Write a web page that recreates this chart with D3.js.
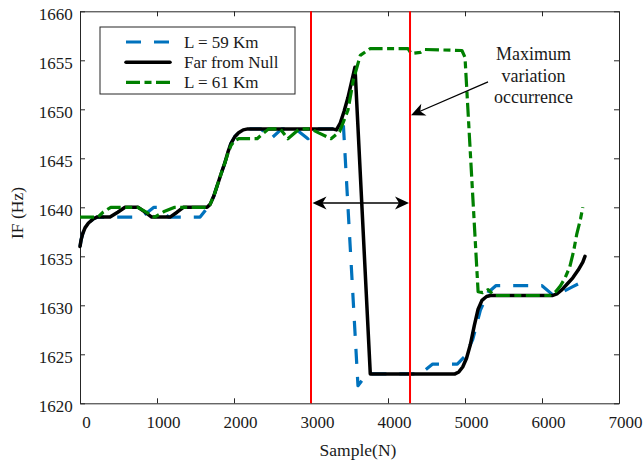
<!DOCTYPE html>
<html><head><meta charset="utf-8">
<script src="https://cdn.jsdelivr.net/npm/d3@7"></script>
<style>
body{margin:0;background:#fff}
svg text{font-family:'Liberation Serif','Times New Roman',Times,serif !important}
</style>
</head><body><svg id="c" width="644" height="464"></svg>
<script>
const xTicks = [0,1000,2000,3000,4000,5000,6000,7000];
const yTicks = [1620,1625,1630,1635,1640,1645,1650,1655,1660];

const blackX = [0,15,35,65,110,170,220,390,490,585,757,845,931,1169,1260,1342,1650,1690,1740,1790,1840,1880,1920,1960,2010,2060,2120,2180,3280,3330,3380,3430,3480,3530,3571,3770,4870,4920,4970,5020,5070,5120,5170,5220,5280,5330,6140,6200,6260,6330,6400,6470,6530,6558];
const blackY = [1636,1636.7,1637.3,1637.9,1638.4,1638.8,1639,1639,1639.5,1640,1640,1639.5,1639,1639,1639.5,1640,1640,1640.3,1641.2,1642.4,1643.6,1644.5,1645.6,1646.5,1647.2,1647.6,1647.9,1648,1648,1647.9,1648.6,1649.8,1651.2,1652.9,1654.3,1623,1623,1623.2,1623.7,1624.6,1626,1627.9,1629.6,1630.5,1630.9,1631,1631,1631.2,1631.6,1632.2,1632.8,1633.6,1634.4,1635];

const blueX = [0,15,35,65,110,170,220,800,960,1020,1150,1560,1660,1700,1740,1790,1840,1880,1920,1960,2010,2060,2120,2180,2350,2480,2620,2800,2960,3100,3350,3420,3610,3730,4420,4580,4900,5000,5100,5200,5300,5400,6000,6150,6250,6400,6500];
const blueY = [1636,1636.7,1637.3,1637.9,1638.4,1638.8,1639,1639,1640,1640,1639,1639,1640,1640.4,1641.2,1642.4,1643.6,1644.5,1645.6,1646.5,1647.2,1647.6,1647.9,1648,1648,1647,1648,1648,1647,1648,1648,1648.5,1621.8,1623,1623,1624,1624,1624.8,1626.5,1629.5,1631.3,1632,1632,1631,1631.3,1631.9,1632.3];

const greenX = [0,230,300,400,750,860,970,1100,1230,1650,1690,1740,1790,1840,1880,1920,1960,2010,2060,2300,2450,2600,2700,2850,3000,3100,3260,3370,3480,3550,3640,3770,4260,4300,4420,4480,4960,5000,5170,5230,5300,5380,6100,6180,6240,6300,6360,6410,6450,6500,6530];
const greenY = [1639,1639,1639.5,1640,1640,1639.5,1639,1639.6,1640,1640,1640.3,1641.2,1642.4,1643.6,1644.5,1645.5,1646.3,1646.8,1647,1647,1648,1648,1647,1648,1648,1647.6,1647,1647.7,1649.9,1653,1655.5,1656.2,1656.2,1655.7,1655.8,1656.1,1656,1655.3,1631.4,1631.3,1631.6,1631,1631,1631.4,1632,1632.8,1633.9,1635.5,1637.2,1638.8,1640];

const redLineX = [3000, 4286];
const spanArrowY = 1640.44;
const annoLines = ["Maximum","variation","occurrence"];
const annoTextX = 5890;
const annoTextY = [1655.0, 1652.8, 1650.6];
const annoFrom = [5299, 1652.8];
const annoTo = [4299, 1649.4];
const legendLabels = ["L = 59 Km","Far from Null","L = 61 Km"];

const FONT = "'Liberation Serif','Times New Roman',Times,serif";
const BLUE = "#0072BD", GREEN = "#008000", RED = "#FF0000", AX = "#262626";
const blueDash = "15,13", greenDash = "14,4.5,7,4.5";

const svg = d3.select("#c");
const x = d3.scaleLinear().domain([0,7000]).range([80,619]);
const y = d3.scaleLinear().domain([1620,1660]).range([403.3,11.3]);

function styleAxis(g){
  g.attr("font-family", null).style("font-family", FONT).attr("font-size", 17);
  g.select(".domain").attr("stroke", AX).attr("stroke-width", 1);
  g.selectAll(".tick line").attr("stroke", AX).attr("stroke-width", 1);
  g.selectAll(".tick text").attr("fill", "#1a1a1a").style("font-family", FONT);
}

const gx = svg.append("g").attr("transform", `translate(0,${y(1620)})`)
  .call(d3.axisBottom(x).tickValues(xTicks).tickSizeInner(-5).tickSizeOuter(0).tickPadding(12.5).tickFormat(d3.format("d")));
styleAxis(gx); gx.selectAll(".tick text").attr("x", 6);

const gy = svg.append("g").attr("transform", `translate(${x(0)},0)`)
  .call(d3.axisLeft(y).tickValues(yTicks).tickSizeInner(-5).tickSizeOuter(0).tickPadding(7.3).tickFormat(d3.format("d")));
styleAxis(gy); gy.selectAll(".tick text").attr("y", 3);

const gt = svg.append("g").attr("transform", `translate(0,${y(1660)})`)
  .call(d3.axisTop(x).tickValues(xTicks).tickSizeInner(-5).tickSizeOuter(0).tickFormat(""));
styleAxis(gt);
const gr = svg.append("g").attr("transform", `translate(${x(7000)},0)`)
  .call(d3.axisRight(y).tickValues(yTicks).tickSizeInner(-5).tickSizeOuter(0).tickFormat(""));
styleAxis(gr);

const line = d3.line().x(d => x(d[0])).y(d => y(d[1]));
const zip = (a, b) => a.map((v, i) => [v, b[i]]);

svg.append("path").attr("d", line(zip(blueX, blueY))).attr("fill","none")
  .attr("stroke", BLUE).attr("stroke-width", 3.2).attr("stroke-dasharray", blueDash).attr("stroke-linejoin","round");
svg.append("path").attr("d", line(zip(blackX, blackY))).attr("fill","none")
  .attr("stroke", "#000").attr("stroke-width", 3.5).attr("stroke-linejoin","round").attr("stroke-linecap","round");
svg.append("path").attr("d", line(zip(greenX, greenY))).attr("fill","none")
  .attr("stroke", GREEN).attr("stroke-width", 3.2).attr("stroke-dasharray", greenDash).attr("stroke-linejoin","round");

svg.selectAll(".red").data(redLineX).enter().append("line")
  .attr("x1", d => x(d)).attr("x2", d => x(d)).attr("y1", y(1620)).attr("y2", y(1660))
  .attr("stroke", RED).attr("stroke-width", 2);

function arrowHead(tx, ty, ang){
  const L = 14, W = 13, N = 4;
  const pts = [[0,0],[-L,-W/2],[-L+N,0],[-L,W/2]].map(([a,b]) =>
    [tx + a*Math.cos(ang) - b*Math.sin(ang), ty + a*Math.sin(ang) + b*Math.cos(ang)]);
  svg.append("path").attr("d", "M" + pts.map(p => p.join(",")).join("L") + "Z").attr("fill", "#000");
}

const sx1 = x(redLineX[0]) + 1.5, sx2 = x(redLineX[1]) - 1, sy = y(spanArrowY);
svg.append("line").attr("x1", sx1 + 8).attr("x2", sx2 - 8).attr("y1", sy).attr("y2", sy)
  .attr("stroke", "#000").attr("stroke-width", 1.3);
arrowHead(sx1, sy, Math.PI);
arrowHead(sx2, sy, 0);

const ax1 = x(annoFrom[0]), ay1 = y(annoFrom[1]), ax2 = x(annoTo[0]), ay2 = y(annoTo[1]);
const ang = Math.atan2(ay2 - ay1, ax2 - ax1);
svg.append("line").attr("x1", ax1).attr("y1", ay1)
  .attr("x2", ax2 - 8*Math.cos(ang)).attr("y2", ay2 - 8*Math.sin(ang))
  .attr("stroke", "#000").attr("stroke-width", 1.3);
arrowHead(ax2, ay2, ang);

svg.selectAll(".anno").data(annoLines).enter().append("text")
  .attr("x", x(annoTextX)).attr("y", (d, i) => y(annoTextY[i]))
  .attr("text-anchor", "middle").style("font-family", FONT).attr("font-size", 18)
  .attr("fill", "#1a1a1a").text(d => d);

svg.append("text").attr("x", 358).attr("y", 456).attr("text-anchor","middle")
  .style("font-family", FONT).attr("font-size", 17.5).attr("fill","#1a1a1a").text("Sample(N)");
svg.append("text").attr("transform", "translate(23,213) rotate(-90)").attr("text-anchor","middle")
  .style("font-family", FONT).attr("font-size", 17.5).attr("fill","#1a1a1a").text("IF (Hz)");

const lg = svg.append("g");
lg.append("rect").attr("x", 100).attr("y", 27).attr("width", 195).attr("height", 67)
  .attr("fill", "#fff").attr("stroke", AX).attr("stroke-width", 1);
const legStyles = [
  {c: BLUE, w: 3.2, dash: blueDash},
  {c: "#000", w: 3.5, dash: null},
  {c: GREEN, w: 3.2, dash: greenDash}
];
const rowY = [42, 62.3, 82.3];
legendLabels.forEach((lab, i) => {
  const s = legStyles[i];
  const l = lg.append("line").attr("x1", 126).attr("x2", 170).attr("y1", rowY[i]).attr("y2", rowY[i])
    .attr("stroke", s.c).attr("stroke-width", s.w);
  if (s.dash) l.attr("stroke-dasharray", s.dash); else l.attr("stroke-linecap", "round");
  lg.append("text").attr("x", 184).attr("y", rowY[i] + 6).style("font-family", FONT)
    .attr("font-size", 17).attr("fill", "#1a1a1a").text(lab);
});
</script>
</body></html>
